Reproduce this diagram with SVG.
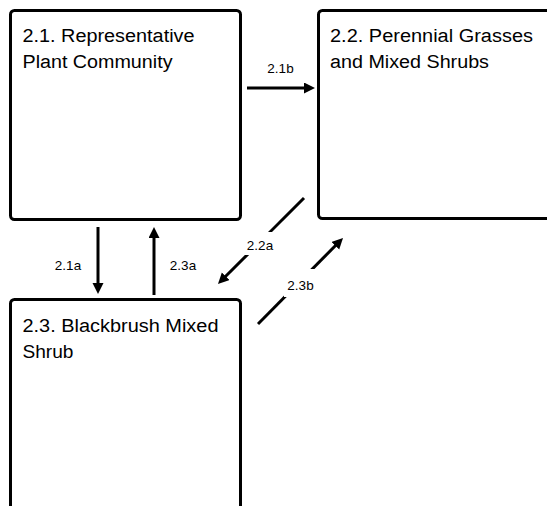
<svg xmlns="http://www.w3.org/2000/svg" width="547" height="506" viewBox="0 0 547 506">
  <style>
    .box { fill: #ffffff; stroke: #000000; stroke-width: 3; }
    .title { font-family: "Liberation Sans", Arial, sans-serif; font-size: 18px; fill: #000000; }
    .lbl { font-family: "Liberation Sans", Arial, sans-serif; font-size: 13.5px; fill: #000000; text-anchor: middle; }
    .conn { stroke: #000000; stroke-width: 3; fill: none; marker-end: url(#arrow); }
    .lblbg { fill: #ffffff; }
  </style>
  <defs>
    <marker id="arrow" markerUnits="userSpaceOnUse" markerWidth="12" markerHeight="12" refX="5" refY="5.5" orient="auto">
      <path d="M0,0 L11,5.5 L0,11 z" fill="#000000"/>
    </marker>
  </defs>
  <rect width="547" height="506" fill="#ffffff"/>

  <g id="node-2-1">
    <rect class="box" x="10.5" y="10.5" width="230" height="209" rx="4"/>
    <text class="title" x="22.5" y="41.5" textLength="172" lengthAdjust="spacingAndGlyphs">2.1. Representative</text>
    <text class="title" x="22.5" y="68" textLength="150" lengthAdjust="spacingAndGlyphs">Plant Community</text>
  </g>

  <g id="node-2-2">
    <rect class="box" x="318.5" y="10.5" width="240" height="208" rx="4"/>
    <text class="title" x="330" y="41.5" textLength="203" lengthAdjust="spacingAndGlyphs">2.2. Perennial Grasses</text>
    <text class="title" x="330" y="68" textLength="159" lengthAdjust="spacingAndGlyphs">and Mixed Shrubs</text>
  </g>

  <g id="node-2-3">
    <rect class="box" x="10.5" y="299.5" width="230" height="220" rx="4"/>
    <text class="title" x="22.5" y="332" textLength="196" lengthAdjust="spacingAndGlyphs">2.3. Blackbrush Mixed</text>
    <text class="title" x="22.5" y="357.5" textLength="51" lengthAdjust="spacingAndGlyphs">Shrub</text>
  </g>

  <g id="connectors">
    <line class="conn" x1="247" y1="88" x2="309" y2="88"/>
    <text class="lbl" x="280.5" y="72.5">2.1b</text>

    <line class="conn" x1="98" y1="227" x2="98" y2="288"/>
    <text class="lbl" x="68" y="270">2.1a</text>

    <line class="conn" x1="154" y1="295" x2="154" y2="233"/>
    <text class="lbl" x="183" y="270">2.3a</text>

    <line class="conn" x1="304" y1="198" x2="222.2" y2="279.8"/>
    <rect class="lblbg" x="244" y="232" width="32" height="23"/>
    <text class="lbl" x="260" y="250">2.2a</text>

    <line class="conn" x1="258" y1="324" x2="338.8" y2="242.2"/>
    <rect class="lblbg" x="284" y="269" width="31" height="28"/>
    <text class="lbl" x="300.5" y="290">2.3b</text>
  </g>
</svg>
